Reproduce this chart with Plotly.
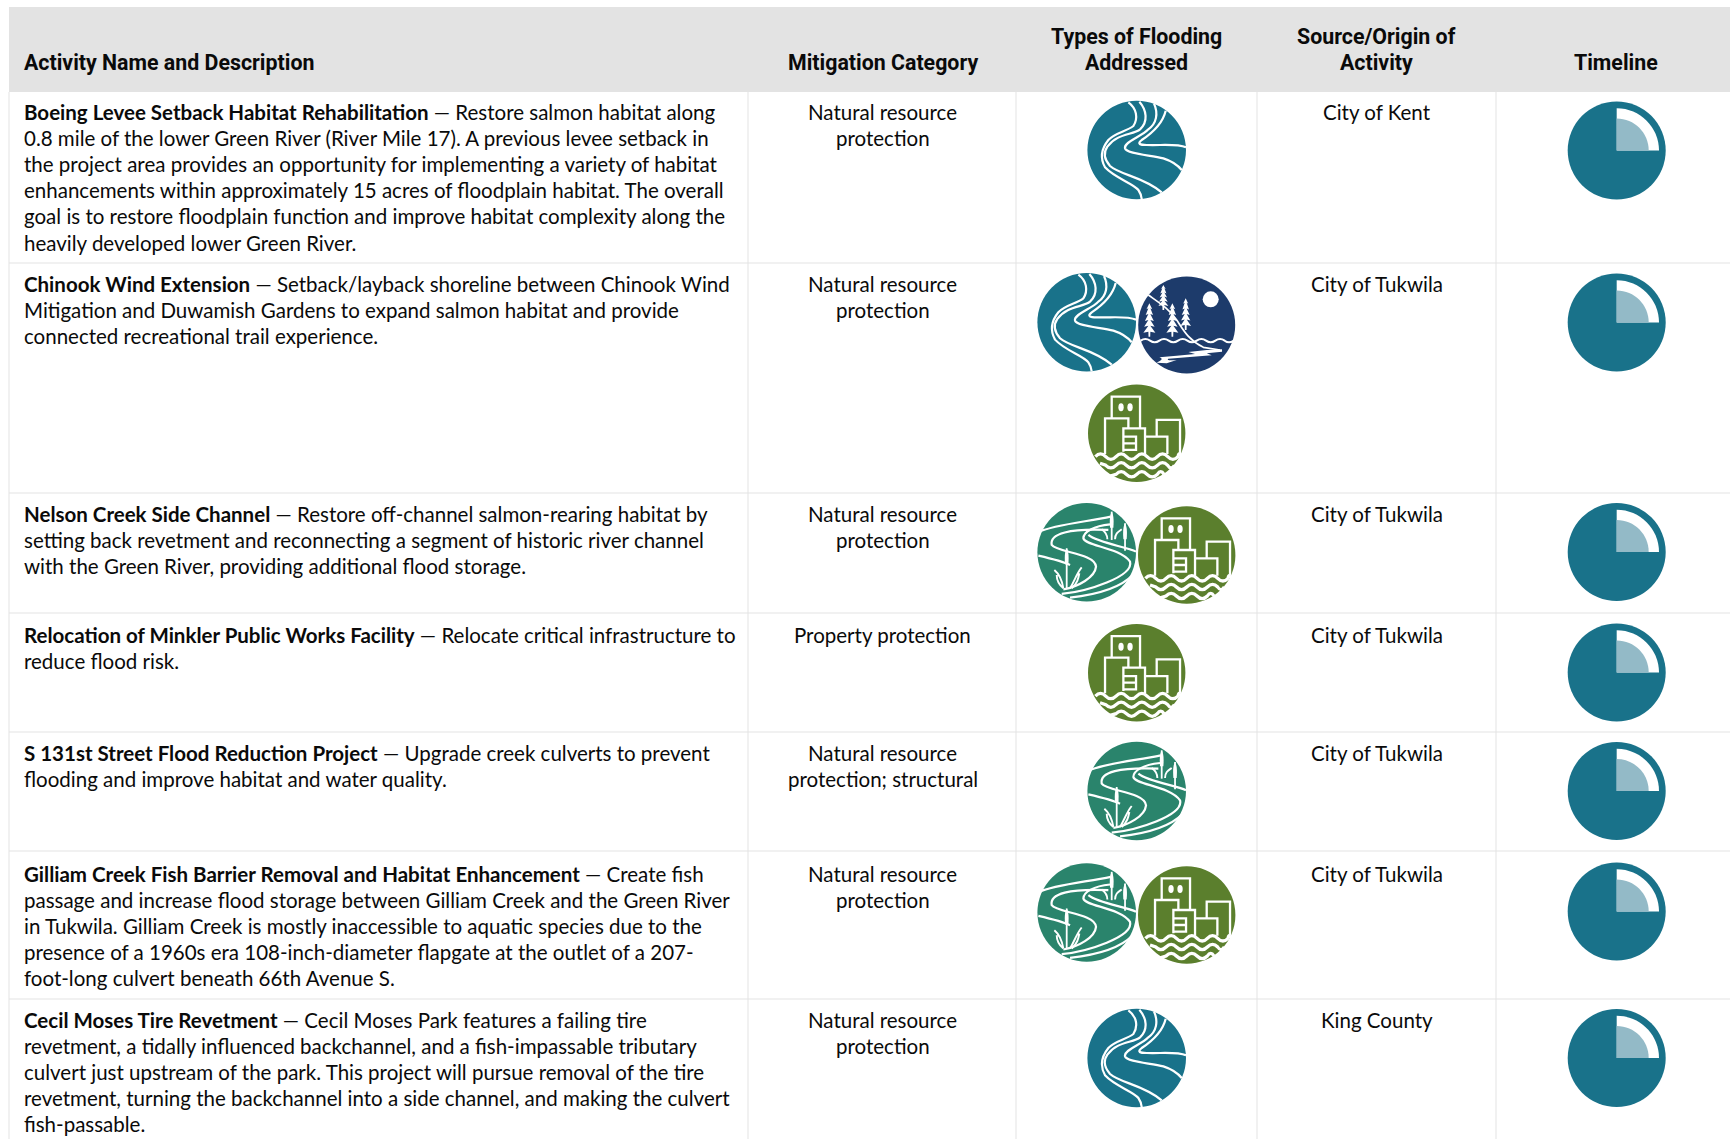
import re
import plotly.graph_objects as go

# ---------- table content ----------
header_labels = ["Activity Name and Description", "Mitigation Category",
                 "Types of Flooding<br>Addressed", "Source/Origin of<br>Activity", "Timeline"]
activity_names = [
    "Boeing Levee Setback Habitat Rehabilitation",
    "Chinook Wind Extension",
    "Nelson Creek Side Channel",
    "Relocation of Minkler Public Works Facility",
    "S 131st Street Flood Reduction Project",
    "Gilliam Creek Fish Barrier Removal and Habitat Enhancement",
    "Cecil Moses Tire Revetment",
]
description_lines = [
    [" — Restore salmon habitat along",
     "0.8 mile of the lower Green River (River Mile 17). A previous levee setback in",
     "the project area provides an opportunity for implementing a variety of habitat",
     "enhancements within approximately 15 acres of floodplain habitat. The overall",
     "goal is to restore floodplain function and improve habitat complexity along the",
     "heavily developed lower Green River."],
    [" — Setback/layback shoreline between Chinook Wind",
     "Mitigation and Duwamish Gardens to expand salmon habitat and provide",
     "connected recreational trail experience."],
    [" — Restore off-channel salmon-rearing habitat by",
     "setting back revetment and reconnecting a segment of historic river channel",
     "with the Green River, providing additional flood storage."],
    [" — Relocate critical infrastructure to",
     "reduce flood risk."],
    [" — Upgrade creek culverts to prevent",
     "flooding and improve habitat and water quality."],
    [" — Create fish",
     "passage and increase flood storage between Gilliam Creek and the Green River",
     "in Tukwila. Gilliam Creek is mostly inaccessible to aquatic species due to the",
     "presence of a 1960s era 108-inch-diameter flapgate at the outlet of a 207-",
     "foot-long culvert beneath 66th Avenue S."],
    [" — Cecil Moses Park features a failing tire",
     "revetment, a tidally influenced backchannel, and a fish-impassable tributary",
     "culvert just upstream of the park. This project will pursue removal of the tire",
     "revetment, turning the backchannel into a side channel, and making the culvert",
     "fish-passable."],
]
mitigation_lines = [
    ["Natural resource", "protection"],
    ["Natural resource", "protection"],
    ["Natural resource", "protection"],
    ["Property protection"],
    ["Natural resource", "protection; structural"],
    ["Natural resource", "protection"],
    ["Natural resource", "protection"],
]
sources = ["City of Kent", "City of Tukwila", "City of Tukwila", "City of Tukwila",
           "City of Tukwila", "City of Tukwila", "King County"]
flood_icons = [
    ["river"],
    ["river", "forest", "city"],
    ["wetland", "city"],
    ["city"],
    ["wetland"],
    ["wetland", "city"],
    ["river"],
]

# ---------- layout constants (page pixels) ----------
W, H = 1730, 1139
HEADER_TOP, HEADER_BOTTOM, TABLE_LEFT = 7, 92, 9
ROW_RULES = [263, 493, 613, 732, 851, 999]
COL_RULES = [748, 1016, 1257, 1496]
COL_CENTERS = [882.5, 1136.7, 1376.7, 1616.2]
TEXT_LEFT = 22
LINE_H = 26.1
ROW_TEXT_Y = [112, 284, 514, 635, 753, 873.6, 1020]
TIMELINE_Y = [150.5, 322.5, 552, 672.5, 791, 911.5, 1058]
ICON_POS = [
    [(1136.7, 150)],
    [(1086.7, 322.3), (1186.7, 325), (1136.7, 433.3)],
    [(1086.7, 552.3), (1186.7, 555)],
    [(1136.7, 672.7)],
    [(1136.7, 791)],
    [(1086.7, 912.5), (1186.7, 915)],
    [(1136.7, 1058)],
]
BODY_FONT = dict(family="Lato", size=20.5, color="#0a0a0a")
HEAD_FONT = dict(family="Roboto", size=21.35, color="#0a0a0a")
RULE = "#e3e3e3"
TEAL, NAVY, GREEN, SEA = "#19728a", "#1d3b6b", "#5b7f2d", "#2a846c"
LIGHT = "#93bac7"

shapes, annotations = [], []


def tf(path, ox, oy, cx, cy, k=1 / 3):
    """Re-anchor an icon path drawn at 3x around (ox, oy) onto centre (cx, cy)."""
    out, is_x = [], True
    for tok in re.findall(r"[A-Za-z]|-?\d+\.?\d*", path):
        if tok.isalpha():
            out.append(tok)
        else:
            v = float(tok)
            out.append(f"{(cx + (v - ox) * k) if is_x else (cy + (v - oy) * k):.2f}")
            is_x = not is_x
    return " ".join(out)


def disc(cx, cy, r, color):
    shapes.append(dict(type="circle", xref="x", yref="y", x0=cx - r, x1=cx + r, y0=cy - r, y1=cy + r,
                       fillcolor=color, line=dict(width=0)))


def stroke(path, width=2.2):
    shapes.append(dict(type="path", xref="x", yref="y", path=path,
                       fillcolor="rgba(0,0,0,0)", line=dict(color="white", width=width)))


def fill(path, color="white"):
    shapes.append(dict(type="path", xref="x", yref="y", path=path, fillcolor=color, line=dict(width=0)))


def wave(x0, x1, y, period, amp, up=True, lead=None):
    """Wavy line; lead is an optional (x, y) lead-in so stacked waves stay in phase."""
    seg, x, s = f"M {x0} {y}", x0, -1 if up else 1
    if lead:
        seg = f"M {lead[0]} {lead[1]} L {x0} {y}"
    while x < x1 - 1:
        nx = min(x + period / 2, x1)
        seg += f" Q {(x + nx) / 2} {y + s * amp * 2} {nx} {y}"
        x, s = nx, -s
    return seg


def pine(x, top, bottom, half):
    n = 5
    right, left = [], []
    for i in range(n):
        y1 = top + (bottom - top - 12) * (i + 1) / n
        w = half * (0.35 + 0.65 * (i + 1) / n)
        right += [f"L {x + w} {y1}", f"L {x + 3} {y1 - 3}"]
        left = [f"L {x - 3} {y1 - 3}", f"L {x - w} {y1}"] + left
    return f"M {x} {top} " + " ".join(right) + f" L {x + 2.5} {bottom} L {x - 2.5} {bottom} " + " ".join(left) + " Z"


def river(cx, cy):
    o = (350, 180)
    disc(cx, cy, 49.3, TEAL)
    stroke(tf("M 325 37 C 350 55 355 85 340 108 C 320 124 285 128 265 150 C 245 175 240 205 255 232 "
              "C 285 265 340 280 355 300 C 362 310 364 318 365 327", *o, cx, cy))
    stroke(tf("M 358 35 C 380 60 385 95 360 118 C 340 135 290 130 262 170 C 250 187 250 205 270 228 "
              "C 300 255 370 260 425 307", *o, cx, cy))
    stroke(tf("M 402 41 C 415 70 410 100 385 118 C 365 140 310 155 315 175 C 320 192 390 195 430 205 "
              "C 455 213 473 225 485 240", *o, cx, cy))
    stroke(tf("M 437 62 C 428 100 395 130 365 150 C 350 162 360 165 380 165 C 420 167 470 160 498 172", *o, cx, cy))


def forest(cx, cy):
    o = (500, 705)
    disc(cx, cy, 48.5, NAVY)
    disc(cx + 24, cy - 25.7, 8, "white")
    for x, t, b, h in [(388, 640, 740, 18), (430, 585, 660, 15), (457, 640, 740, 18), (497, 625, 720, 16)]:
        fill(tf(pine(x, t, b, h), *o, cx, cy))
    stroke(tf("M 385 615 C 420 640 445 655 470 690 C 490 720 505 750 550 772 L 600 780", *o, cx, cy), 1.7)
    stroke(tf(wave(362, 640, 752, 56, 5), *o, cx, cy), 2.0)
    fill(tf("M 410 818 C 425 812 430 806 418 802 L 470 797 L 525 792 L 505 786 L 560 780 L 606 778 L 606 785 "
            "L 560 790 L 575 796 L 500 802 L 445 806 C 440 810 445 812 470 810 L 440 820 Z", *o, cx, cy))


def city(cx, cy):
    o = (350, 1030)
    disc(cx, cy, 48.7, GREEN)
    stroke(tf("M 275 985 L 275 920 L 360 920 L 360 1015", *o, cx, cy), 2.3)
    stroke(tf("M 255 1092 L 255 985 L 325 985 L 325 1015", *o, cx, cy), 2.3)
    stroke(tf("M 310 1085 L 310 1015 L 375 1015 L 375 1092 M 310 1040 L 348 1040 L 348 1080 L 310 1080 M 310 1060 L 345 1060",
              *o, cx, cy), 2.3)
    stroke(tf("M 375 1040 L 442 1040 L 442 1092", *o, cx, cy), 2.3)
    stroke(tf("M 410 1040 L 410 990 L 480 990 L 480 1092", *o, cx, cy), 2.3)
    for dx in (-47, -20):
        shapes.append(dict(type="circle", xref="x", yref="y", x0=cx + (dx - 8) / 3, x1=cx + (dx + 8) / 3,
                           y0=cy + (-78 - 12) / 3, y1=cy + (-78 + 12) / 3, fillcolor="white", line=dict(width=0)))
    stroke(tf(wave(226, 480, 1100, 62, 8), *o, cx, cy), 3.3)
    stroke(tf(wave(257, 463, 1126, 62, 8, up=False, lead=(240, 1120)), *o, cx, cy), 3.3)
    stroke(tf(wave(288, 432, 1153, 62, 8, lead=(268, 1159)), *o, cx, cy), 3.3)


def cattail(x, top, bottom):
    return (f"M {x} {bottom} L {x} {top}", f"M {x - 5} {top + 48} C {x - 7} {top + 20} {x - 5} {top + 10} {x} {top} "
            f"C {x + 5} {top + 10} {x + 7} {top + 20} {x + 5} {top + 48} Z")


def wetland(cx, cy):
    o = (200, 187)
    disc(cx, cy, 49.3, SEA)
    stroke(tf("M 58 125 C 100 105 200 95 272 80", *o, cx, cy))
    stroke(tf("M 270 103 C 222 108 190 125 190 145 C 195 168 300 172 330 215 C 342 260 200 305 125 312", *o, cx, cy))
    stroke(tf("M 265 120 C 150 115 88 130 95 165 C 110 187 225 190 228 230 C 225 262 175 290 130 298", *o, cx, cy))
    stroke(tf("M 55 197 C 90 205 130 215 150 225", *o, cx, cy))
    stroke(tf("M 150 323 C 220 315 300 295 338 255", *o, cx, cy))
    stroke(tf("M 205 135 C 235 160 320 170 348 185", *o, cx, cy))
    for x, t, b in [(140, 175, 295), (275, 65, 150), (315, 100, 182)]:
        line, head = cattail(x, t, b)
        stroke(tf(line, *o, cx, cy), 1.8)
        fill(tf(head, *o, cx, cy))
    stroke(tf("M 130 295 C 125 265 115 250 103 240 M 130 295 C 112 280 110 265 110 255 "
              "M 150 295 C 165 270 170 250 185 232 M 155 295 C 172 280 175 265 178 250", *o, cx, cy), 1.9)
    stroke(tf("M 262 148 C 262 135 255 125 245 118 M 285 148 C 285 130 295 125 305 118", *o, cx, cy), 1.9)


def timeline(cx, cy):
    disc(cx, cy, 49, TEAL)
    for r, color in [(42.3, "white"), (32, LIGHT)]:
        k = 0.5523 * r
        fill(f"M {cx} {cy} L {cx} {cy - r} C {cx + k} {cy - r} {cx + r} {cy - k} {cx + r} {cy} Z", color)


ICONS = {"river": river, "forest": forest, "city": city, "wetland": wetland}

# ---------- grid ----------
shapes.append(dict(type="rect", xref="x", yref="y", x0=TABLE_LEFT, x1=W, y0=HEADER_TOP, y1=HEADER_BOTTOM,
                   fillcolor="#e3e3e3", line=dict(width=0)))
for y in ROW_RULES:
    shapes.append(dict(type="line", xref="x", yref="y", x0=TABLE_LEFT, x1=W, y0=y, y1=y, line=dict(color=RULE, width=1)))
for x in [TABLE_LEFT] + COL_RULES:
    shapes.append(dict(type="line", xref="x", yref="y", x0=x, x1=x, y0=HEADER_BOTTOM, y1=H, line=dict(color=RULE, width=1)))


def text(x, y, s, font, anchor="center"):
    annotations.append(dict(x=x, y=y, xref="x", yref="y", text=s, showarrow=False, xanchor=anchor,
                            yanchor="middle", font=font, align="center"))


# ---------- header ----------
text(TEXT_LEFT, 62.7, f"<b>{header_labels[0]}</b>", HEAD_FONT, "left")
for cxx, lab in zip(COL_CENTERS, header_labels[1:]):
    parts = lab.split("<br>")
    if len(parts) == 1:
        text(cxx, 62.7, f"<b>{parts[0]}</b>", HEAD_FONT)
    else:
        text(cxx, 36.7, f"<b>{parts[0]}</b>", HEAD_FONT)
        text(cxx, 62.7, f"<b>{parts[1]}</b>", HEAD_FONT)

# ---------- rows ----------
for i, y0 in enumerate(ROW_TEXT_Y):
    for j, ln in enumerate(description_lines[i]):
        s = f"<b>{activity_names[i]}</b>{ln}" if j == 0 else ln
        text(TEXT_LEFT, y0 + j * LINE_H, s, BODY_FONT, "left")
    for j, ln in enumerate(mitigation_lines[i]):
        text(COL_CENTERS[0], y0 + j * LINE_H, ln, BODY_FONT)
    text(COL_CENTERS[2], y0, sources[i], BODY_FONT)
    for name, (cx, cy) in zip(flood_icons[i], ICON_POS[i]):
        ICONS[name](cx, cy)
    timeline(COL_CENTERS[3] + 0.5, TIMELINE_Y[i])

fig = go.Figure()
fig.update_layout(
    width=W, height=H, margin=dict(l=0, r=0, t=0, b=0), autosize=False,
    paper_bgcolor="white", plot_bgcolor="white", showlegend=False,
    xaxis=dict(range=[0, W], visible=False, fixedrange=True),
    yaxis=dict(range=[H, 0], visible=False, fixedrange=True),
    shapes=shapes, annotations=annotations,
)
fig.write_html("out.html", config={"displayModeBar": False},
               post_script="document.body.style.margin='0';document.body.style.overflow='hidden';")
